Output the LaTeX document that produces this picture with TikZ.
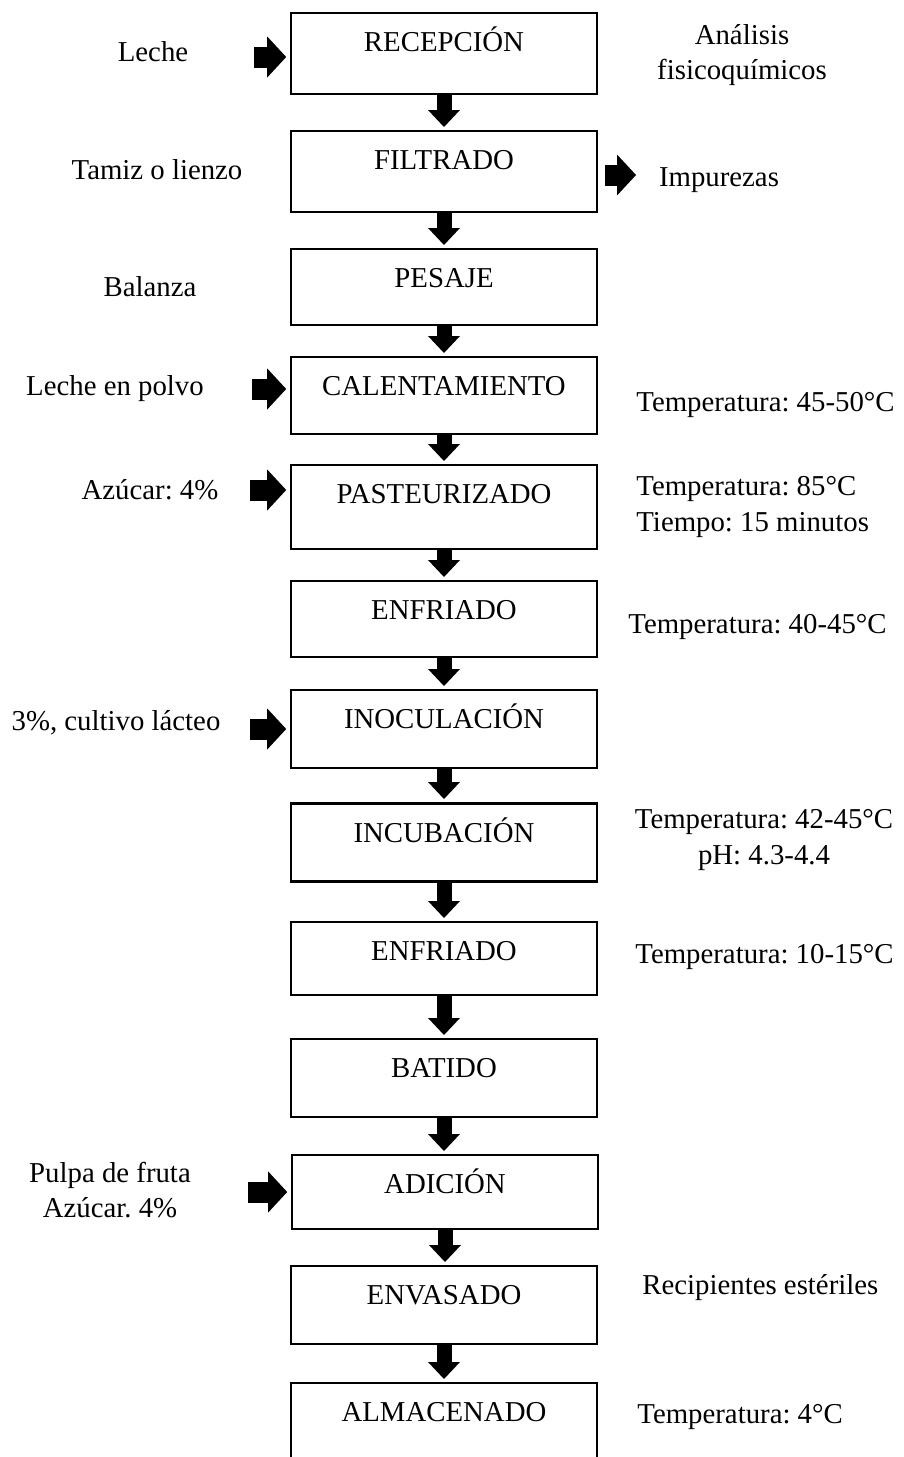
\documentclass[tikz,border=0pt]{standalone}
\usepackage{fontspec}
\setmainfont{Liberation Serif}
\usetikzlibrary{arrows.meta,positioning}

\tikzset{
  stepbox/.style={draw,line width=0.8pt,minimum width=153pt,inner sep=0pt,anchor=north,
    text height=19.5pt,text depth=#1},
  txt/.style={inner sep=0pt},
  down/.style={line width=7.5pt,-{Triangle[width=16pt,length=8.5pt,line width=0pt]},shorten >=1.5pt},
  side/.style={line width=10.5pt,-{Triangle[width=20.5pt,length=9.5pt,line width=0pt]}}
}

\begin{document}
\frenchspacing
\begin{tikzpicture}[x=0.5pt,y=-0.5pt,font=\fontsize{14.4pt}{17.6pt}\selectfont]
\useasboundingbox (0,0) rectangle (904,1457);
\clip (0,0) rectangle (904,1457);
\node[stepbox=21pt] (b1) at (444,12) {RECEPCIÓN};
\node[stepbox=21pt] (b2) at (444,130) {FILTRADO};
\node[stepbox=18.5pt] (b3) at (444,248) {PESAJE};
\node[stepbox=19pt] (b4) at (444,356) {CALENTAMIENTO};
\node[stepbox=22.5pt] (b5) at (444,464) {PASTEURIZADO};
\node[stepbox=18.5pt] (b6) at (444,580) {ENFRIADO};
\node[stepbox=19.5pt] (b7) at (444,689) {INOCULACIÓN};
\node[stepbox=19.5pt,line width=1.3pt] (b8) at (444,802) {INCUBACIÓN};
\node[stepbox=17pt] (b9) at (444,921) {ENFRIADO};
\node[stepbox=19.5pt] (b10) at (444,1038) {BATIDO};
\node[stepbox=17.5pt] (b11) at (445,1154) {ADICIÓN};
\node[stepbox=19.5pt] (b12) at (444,1265) {ENVASADO};
\node[stepbox=30pt] (b13) at (444,1382) {ALMACENADO};

\foreach \a/\b in {b1/b2,b2/b3,b3/b4,b4/b5,b5/b6,b6/b7,b7/b8,b8/b9,b9/b10,b10/b11,b11/b12,b12/b13}
  \draw[down] (\a.south) -- (\a.south |- \b.north);

\node[txt] (leche) at (153,52) {Leche};
\node[txt] (tamiz) at (157,170) {Tamiz o lienzo};
\node[txt] (balanza) at (150,287) {Balanza};
\node[txt] (polvo) at (115,389) {Leche en polvo};
\node[txt] (azucar) at (150,490) {Azúcar: 4\%};
\node[txt] (cultivo) at (116,723) {3\%, cultivo lácteo};
\node[txt,align=center] (pulpa) at (110,1190) {Pulpa de fruta\\Azúcar. 4\%};

\coordinate (in1) at (254,57);
\coordinate (in4) at (252,389);
\coordinate (in5) at (250,490);
\coordinate (in7) at (250,729);
\coordinate (in11) at (248,1192);
\foreach \c/\b in {in1/b1,in4/b4,in5/b5,in7/b7,in11/b11}
  \draw[side,shorten >=2pt] (\c) -- (\c -| \b.west);

\coordinate (out2) at (636,175);
\draw[side,shorten <=3.5pt] (b2.east |- out2) -- (out2);

\node[txt,align=center] (analisis) at (742,55) {Análisis\\fisicoquímicos};
\node[txt] (impurezas) at (719,180) {Impurezas};
\node[txt,anchor=west] (t4) at (636,405) {Temperatura: 45-50°C};
\node[txt,anchor=west,align=left] (t5) at (636,507) {Temperatura: 85°C\\Tiempo: 15 minutos};
\node[txt,anchor=west] (t6) at (628,627) {Temperatura: 40-45°C};
\node[txt,align=center] (t8) at (764,840) {Temperatura: 42-45°C\\pH: 4.3-4.4};
\node[txt,anchor=west] (t9) at (635,957) {Temperatura: 10-15°C};
\node[txt,anchor=west] (t12) at (642,1288) {Recipientes estériles};
\node[txt,anchor=west] (t13) at (637,1417) {Temperatura: 4°C};
\end{tikzpicture}
\end{document}
